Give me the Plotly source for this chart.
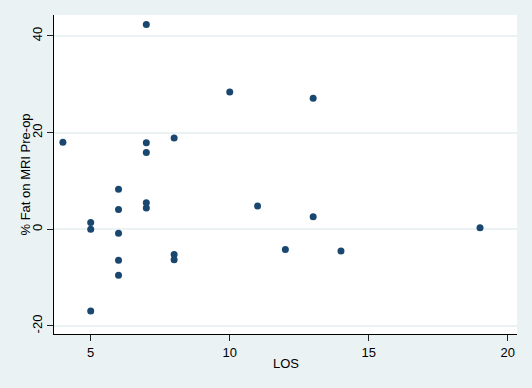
import plotly.graph_objects as go

los = [4, 7, 10, 13, 8, 7, 7, 6, 7, 7, 6, 5, 5, 6, 8, 8, 6, 6, 5, 11, 12, 13, 14, 19]
fat = [18.0, 42.4, 28.4, 27.1, 18.9, 17.9, 15.9, 8.3, 5.5, 4.4, 4.1, 1.4, 0.0, -0.8,
       -5.2, -6.3, -6.4, -9.5, -16.9, 4.8, -4.2, 2.6, -4.5, 0.3]

x_ticks = [5, 10, 15, 20]
y_ticks = [-20, 0, 20, 40]
x_title = "LOS"
y_title = "% Fat on MRI Pre-op"

BG = "#EAF2F3"
NAVY = "#1A476F"
FONT = "Liberation Sans, Arial, Helvetica, sans-serif"

fig = go.Figure(go.Scatter(
    x=los, y=fat, mode="markers",
    marker=dict(color=NAVY, size=7, line=dict(width=0)),
    hoverinfo="x+y", showlegend=False,
))

fig.update_layout(
    width=532, height=388,
    margin=dict(l=54, r=15, t=15, b=54),
    paper_bgcolor=BG, plot_bgcolor="white",
    font=dict(family=FONT, size=13, color="#000000"),
    annotations=[
        dict(text=x_title, xref="paper", yref="paper", x=0.5, y=0,
             xanchor="center", yanchor="middle", yshift=-29,
             showarrow=False, font=dict(size=13)),
        dict(text=y_title, xref="paper", yref="paper", x=0, y=0.5,
             xanchor="center", yanchor="middle", xshift=-29, textangle=-90,
             showarrow=False, font=dict(size=13)),
    ],
)
fig.update_xaxes(
    range=[3.68, 20.33], tickvals=x_ticks, ticktext=[str(v) for v in x_ticks],
    showgrid=False, zeroline=False, automargin=False,
    showline=True, linecolor="black", linewidth=1.3,
    ticks="outside", ticklen=6, tickcolor="#222222", tickwidth=1,
    tickfont=dict(size=13),
)
fig.update_yaxes(
    range=[-21.66, 44.34], tickvals=y_ticks, ticktext=[str(v) for v in y_ticks],
    tickangle=-90, automargin=False,
    showgrid=True, gridcolor=BG, gridwidth=1.5, zeroline=False,
    showline=True, linecolor="black", linewidth=1.3,
    ticks="outside", ticklen=6, tickcolor="#222222", tickwidth=1,
    tickfont=dict(size=13),
)

fig.write_html("out.html", config={"displayModeBar": False},
               post_script="document.body.style.margin='0';")
